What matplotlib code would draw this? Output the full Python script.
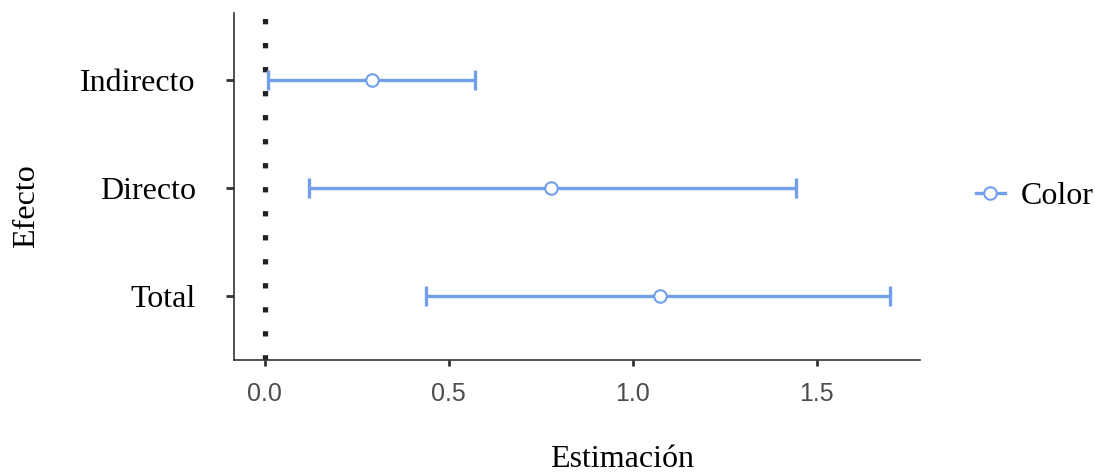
import matplotlib.pyplot as plt
import numpy as np

efectos = ["Total", "Directo", "Indirecto"]
estimacion = [1.073, 0.777, 0.29]
inferior = [0.437, 0.12, 0.008]
superior = [1.70, 1.443, 0.57]

color = "#729fea"

fig = plt.figure(figsize=(10.95, 4.74), dpi=100)
ax = fig.add_axes([0.2137, 0.2405, 0.6263, 0.7321])

y = np.arange(1, len(efectos) + 1)
est = np.array(estimacion)
err = [est - np.array(inferior), np.array(superior) - est]

ax.axvline(0, color="#222222", lw=3.8, linestyle=(0, (1, 3.55)), dash_capstyle="butt", zorder=1)
ax.errorbar(est, y, xerr=err, fmt="none", ecolor=color, elinewidth=2.4,
            capsize=7.5, capthick=2.4, zorder=2)
ax.plot(est, y, "o", ms=9, mfc="white", mec=color, mew=1.5, zorder=3)

# legend handle: line + open circle
handle, = ax.plot([], [], "-o", color=color, lw=2.4, ms=9, mfc="white", mec=color, mew=1.5)
leg = fig.legend([handle], ["Color"], loc="center left", bbox_to_anchor=(0.865, 0.586),
                 frameon=False, handlelength=0.9, handletextpad=0.5,
                 prop={"family": "Liberation Serif", "size": 23})

ax.set_xlim(-0.084, 1.78)
ax.set_ylim(0.407, 3.62)
ax.set_xticks([0.0, 0.5, 1.0, 1.5])
ax.set_xticklabels(["0.0", "0.5", "1.0", "1.5"], family="Liberation Sans", fontsize=18, color="#4d4d4d")
ax.set_yticks(y)
ax.set_yticklabels(efectos, family="Liberation Serif", fontsize=23)

for s in ["top", "right"]:
    ax.spines[s].set_visible(False)
for s in ["left", "bottom"]:
    ax.spines[s].set_color("#333333")
    ax.spines[s].set_linewidth(1.2)
ax.tick_params(axis="y", length=5.5, width=2, color="#333333", pad=22)
ax.tick_params(axis="x", length=4, width=2, color="#333333", pad=12)

fig.text(0.568, 0.0, "Estimación", ha="center", va="bottom", family="Liberation Serif", fontsize=23)
fig.text(0.024, 0.565, "Efecto", ha="center", va="center", rotation=90, family="Liberation Serif", fontsize=23)

fig.savefig("out.png", dpi=100)
